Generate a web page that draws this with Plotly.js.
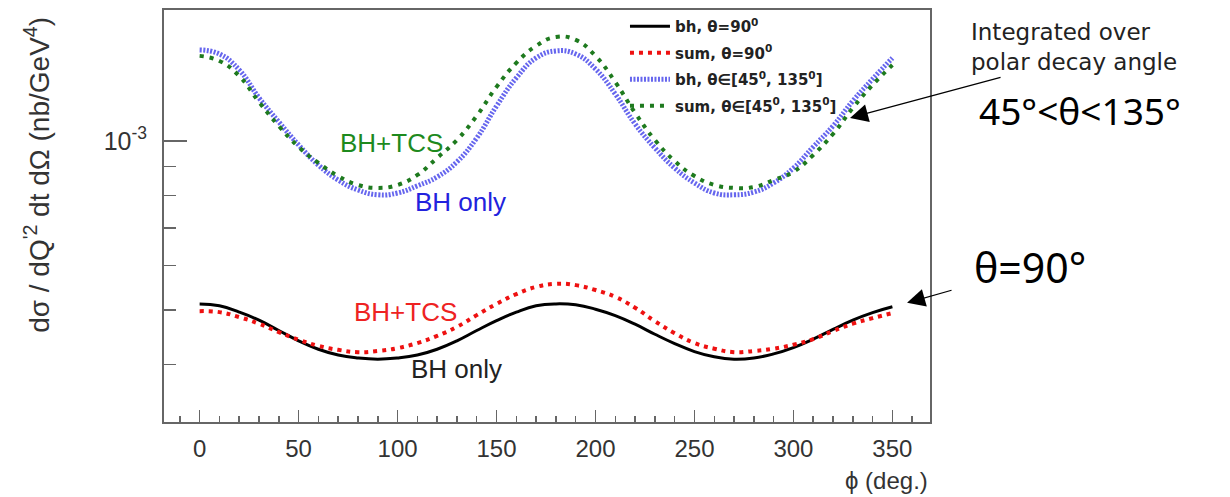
<!DOCTYPE html>
<html>
<head>
<meta charset="utf-8">
<script src="https://cdn.plot.ly/plotly-3.0.1.min.js"></script>
<style>html,body{margin:0;padding:0;background:#fff;}#chart{width:1230px;height:497px;}</style>
</head>
<body>
<div id="chart"></div>
<script>
// phi (deg.)
const phi = [0,10,20,30,40,50,60,70,80,90,100,110,120,130,140,150,160,170,180,190,200,210,220,230,240,250,260,270,280,290,300,310,320,330,340,350];

// bh, theta = 90 deg (nb/GeV^4)
const bh90 = [5.13e-4,5.09e-4,4.96e-4,4.80e-4,4.60e-4,4.41e-4,4.26e-4,4.16e-4,4.11e-4,4.09e-4,4.11e-4,4.16e-4,4.26e-4,4.41e-4,4.60e-4,4.79e-4,4.96e-4,5.09e-4,5.13e-4,5.11e-4,5.02e-4,4.89e-4,4.72e-4,4.53e-4,4.36e-4,4.22e-4,4.13e-4,4.09e-4,4.11e-4,4.18e-4,4.29e-4,4.44e-4,4.62e-4,4.80e-4,4.95e-4,5.07e-4];

// sum (BH+TCS), theta = 90 deg
const sum90 = [4.98e-4,4.96e-4,4.86e-4,4.73e-4,4.57e-4,4.43e-4,4.32e-4,4.25e-4,4.21e-4,4.23e-4,4.28e-4,4.37e-4,4.50e-4,4.67e-4,4.90e-4,5.13e-4,5.34e-4,5.50e-4,5.57e-4,5.54e-4,5.43e-4,5.28e-4,5.05e-4,4.78e-4,4.55e-4,4.37e-4,4.27e-4,4.21e-4,4.23e-4,4.27e-4,4.34e-4,4.44e-4,4.59e-4,4.73e-4,4.84e-4,4.94e-4];

// bh, theta in [45, 135]
const bhInt = [1.452e-3,1.428e-3,1.338e-3,1.193e-3,1.081e-3,9.84e-4,9.06e-4,8.52e-4,8.18e-4,8.02e-4,8.08e-4,8.32e-4,8.63e-4,9.18e-4,1.012e-3,1.154e-3,1.295e-3,1.405e-3,1.446e-3,1.428e-3,1.343e-3,1.212e-3,1.072e-3,9.72e-4,8.95e-4,8.42e-4,8.08e-4,8.02e-4,8.11e-4,8.42e-4,8.95e-4,9.76e-4,1.063e-3,1.178e-3,1.289e-3,1.405e-3];

// sum, theta in [45, 135]
const sumInt = [1.417e-3,1.388e-3,1.305e-3,1.173e-3,1.063e-3,9.76e-4,9.14e-4,8.66e-4,8.35e-4,8.25e-4,8.35e-4,8.70e-4,9.33e-4,1.004e-3,1.108e-3,1.248e-3,1.377e-3,1.476e-3,1.531e-3,1.513e-3,1.417e-3,1.273e-3,1.122e-3,1.004e-3,9.21e-4,8.66e-4,8.35e-4,8.25e-4,8.28e-4,8.52e-4,8.81e-4,9.44e-4,1.029e-3,1.145e-3,1.258e-3,1.365e-3];

const seriesNames = [
  'bh, θ=90<sup>0</sup>',
  'sum, θ=90<sup>0</sup>',
  'bh, θ∈[45<sup>0</sup>, 135<sup>0</sup>]',
  'sum, θ∈[45<sup>0</sup>, 135<sup>0</sup>]'
];

const xTickVals = [0,50,100,150,200,250,300,350];
const yTickVals = [1e-3];
const yTickText = ['10<sup>-3</sup>'];
const yMinorVals = [4e-4,5e-4,6e-4,7e-4,8e-4,9e-4];

const axisColor = '#666';
const textColor = '#333';

const traces = [
  {x: phi, y: bh90, name: seriesNames[0], legendgroup: 'a', mode: 'lines',
   line: {color: '#000000', width: 3, shape: 'spline', smoothing: 1.3}},
  {x: phi, y: sum90, name: seriesNames[1], legendgroup: 'b', mode: 'lines',
   line: {color: '#ee1111', width: 4, dash: '4px,5px', shape: 'spline', smoothing: 1.3}},
  {x: phi, y: bhInt, name: seriesNames[2], legendgroup: 'c', mode: 'lines',
   line: {color: '#6666ee', width: 5, dash: '2px,1.5px', shape: 'spline', smoothing: 1.3}},
  {x: phi, y: sumInt, name: seriesNames[3], legendgroup: 'd', mode: 'lines',
   line: {color: '#1e7a1e', width: 4, dash: '4px,6px', shape: 'spline', smoothing: 1.3}}
];

const layout = {
  width: 1230, height: 497,
  margin: {l: 164, r: 300, t: 10, b: 75},
  paper_bgcolor: '#ffffff', plot_bgcolor: '#ffffff',
  font: {family: 'Liberation Sans, Arial, sans-serif', color: textColor},
  showlegend: true,
  legend: {
    x: 0.6018, xanchor: 'left', y: 1, yanchor: 'top',
    bgcolor: 'rgba(0,0,0,0)', borderwidth: 0,
    font: {family: 'DejaVu Sans, sans-serif', size: 15, color: '#222', weight: 'bold'},
    traceorder: 'grouped', tracegroupgap: 4, itemwidth: 40
  },
  xaxis: {
    range: [-18, 369], tickmode: 'array', tickvals: xTickVals,
    ticks: 'inside', ticklen: 12, tickwidth: 1.5, tickcolor: axisColor,
    showline: true, linecolor: axisColor, linewidth: 2, mirror: true,
    showgrid: false, zeroline: false,
    tickfont: {size: 24, color: textColor}, ticklabelstandoff: 4,
    minor: {tickmode: 'linear', tick0: 0, dtick: 10, ticks: 'inside', ticklen: 6, tickwidth: 1.5, tickcolor: axisColor, showgrid: false}
  },
  yaxis: {
    type: 'log', range: [-3.5, -2.767],
    tickmode: 'array', tickvals: yTickVals, ticktext: yTickText,
    ticks: 'inside', ticklen: 23, tickwidth: 1.5, tickcolor: axisColor,
    showline: true, linecolor: axisColor, linewidth: 2, mirror: true,
    showgrid: false, zeroline: false,
    tickfont: {size: 25, color: textColor}, ticklabelstandoff: 10,
    minor: {tickmode: 'array', tickvals: yMinorVals, ticks: 'inside', ticklen: 12, tickwidth: 1.5, tickcolor: axisColor, showgrid: false}
  },
  annotations: [
    {xref: 'paper', yref: 'paper', x: -0.166, y: 0.5995, xanchor: 'center', yanchor: 'middle',
     textangle: -90, showarrow: false,
     text: 'dσ / dQ<sup>\'2</sup> dt dΩ (nb/GeV<sup>4</sup>)', font: {size: 28, color: textColor}},
    {xref: 'paper', yref: 'paper', x: 1, y: -0.1408, xanchor: 'right', yanchor: 'middle',
     showarrow: false, text: 'ϕ (deg.)', font: {size: 24, color: textColor}},
    {xref: 'x', yref: 'y', x: 97, y: -3.004, showarrow: false, text: 'BH+TCS', font: {size: 26, color: '#1e8a1e'}},
    {xref: 'x', yref: 'y', x: 132, y: -3.109, showarrow: false, text: 'BH only', font: {size: 26, color: '#2222dd'}},
    {xref: 'x', yref: 'y', x: 104, y: -3.304, showarrow: false, text: 'BH+TCS', font: {size: 26, color: '#ee2222'}},
    {xref: 'x', yref: 'y', x: 130, y: -3.406, showarrow: false, text: 'BH only', font: {size: 26, color: '#222'}},
    {xref: 'paper', yref: 'paper', x: 1.0505, y: 0.9114, xanchor: 'left', yanchor: 'middle', align: 'left',
     showarrow: false, text: 'Integrated over<br>polar decay angle', font: {family: 'DejaVu Sans, sans-serif', size: 23, color: '#222'}},
    {xref: 'paper', yref: 'paper', x: 1.062, y: 0.755, xanchor: 'left', yanchor: 'middle',
     showarrow: false, text: '45°<θ<135°', font: {family: 'Noto Sans, sans-serif', size: 37, color: '#000'}},
    {xref: 'paper', yref: 'paper', x: 1.0548, y: 0.376, xanchor: 'left', yanchor: 'middle',
     showarrow: false, text: 'θ=90°', font: {family: 'Noto Sans, sans-serif', size: 41, color: '#000'}},
    {xref: 'x', yref: 'y', x: 328.6, y: -2.959, ax: 152, ay: -41, text: '', showarrow: true,
     arrowhead: 2, arrowsize: 3, arrowwidth: 1.2, arrowcolor: '#000'},
    {xref: 'x', yref: 'y', x: 357.4, y: -3.288, ax: 46, ay: -13, text: '', showarrow: true,
     arrowhead: 2, arrowsize: 3, arrowwidth: 1.2, arrowcolor: '#000'}
  ]
};

Plotly.newPlot('chart', traces, layout, {displayModeBar: false, staticPlot: true});
</script>
</body>
</html>
